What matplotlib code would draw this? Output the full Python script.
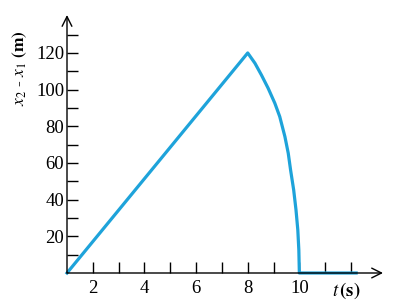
import matplotlib
matplotlib.use("Agg")
import matplotlib.pyplot as plt

# data
t_vals = [1, 8, 8.28, 8.53, 8.79, 9.05, 9.24, 9.44, 9.57, 9.66, 9.78, 9.87, 9.94, 9.98, 10, 12.2]
d_vals = [0, 120, 114.4, 108.0, 100.8, 92.6, 85.3, 74.4, 65.3, 56.2, 45.3, 34.4, 23.5, 12.5, 0, 0]
x_ticks = [2, 3, 4, 5, 6, 7, 8, 9, 10, 11, 12]
x_labels = ["2", "", "4", "", "6", "", "8", "", "10", "", ""]
y_ticks = [10, 20, 30, 40, 50, 60, 70, 80, 90, 100, 110, 120, 130]
y_labels = ["", "20", "", "40", "", "60", "", "80", "", "100", "", "120", ""]

plt.rcParams['font.family'] = ['Liberation Serif', 'DejaVu Serif']
plt.rcParams['mathtext.fontset'] = 'stix'

W, H = 409, 303
fig = plt.figure(figsize=(W / 100, H / 100), dpi=100)
x0, y0, x1, y1 = 67, 273, 383, 15
ax = fig.add_axes([x0 / W, (H - y0) / H, (x1 - x0) / W, (y0 - y1) / H])
ax.set_xlim(1, 13.24)
ax.set_ylim(0, 140.7)

ax.plot(t_vals, d_vals, color='#1ea3da', lw=2.3, solid_joinstyle='round', clip_on=False, zorder=3)

for s in ax.spines.values():
    s.set_visible(False)

ax.annotate('', xy=(1.0, 0), xytext=(0, 0), xycoords='axes fraction',
            arrowprops=dict(arrowstyle='->,head_length=0.7,head_width=0.35', color='black', lw=1.0,
                            shrinkA=0, shrinkB=0))
ax.annotate('', xy=(0, 1.0), xytext=(0, 0), xycoords='axes fraction',
            arrowprops=dict(arrowstyle='->,head_length=0.7,head_width=0.35', color='black', lw=1.0,
                            shrinkA=0, shrinkB=0))

ax.set_xticks(x_ticks)
ax.set_xticklabels(x_labels)
ax.set_yticks(y_ticks)
ax.set_yticklabels(y_labels)
ax.tick_params(axis='x', direction='in', length=8, width=1, pad=5, labelsize=13.5)
ax.tick_params(axis='y', direction='in', length=8, width=1, pad=2, labelsize=13.5)

fig.text(20 / W, 1 - 68 / H, r"$x_2$ - $x_1$ $\mathbf{(m)}$", rotation=90, ha='center', va='center', fontsize=12.5)
fig.text(346 / W, 1 - 291 / H, r"$t\,\mathbf{(s)}$", ha='center', va='center', fontsize=13.5)

fig.savefig("out.png", dpi=100)
